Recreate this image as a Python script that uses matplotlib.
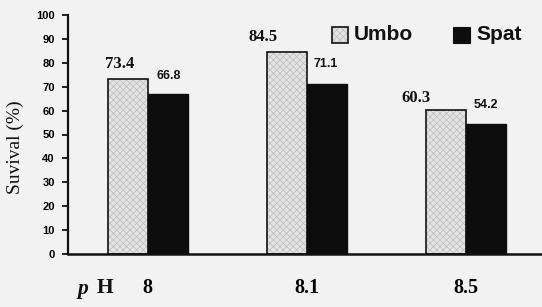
import matplotlib
matplotlib.use("Agg")
import matplotlib.pyplot as plt
import numpy as np
from matplotlib.patches import Rectangle

categories = ["8", "8.1", "8.5"]
umbo = [73.4, 84.5, 60.3]
spat = [66.8, 71.1, 54.2]
yticks = [0, 10, 20, 30, 40, 50, 60, 70, 80, 90, 100]

# label offsets in pixels (dx, dy from bar top centre)
umbo_off = [(-8, 15), (-23, 15), (-30, 12)]
spat_off = [(1, 18), (-1, 20), (0, 19)]

BG = "#f2f2f2"
UFACE = "#e3e3e3"
UHATCH = "#bdbdbd"
plt.rcParams['hatch.linewidth'] = 0.5

fig = plt.figure(figsize=(5.42, 3.07), dpi=100, facecolor=BG)
ax = fig.add_axes([68/542, 1-254/307, 477/542, 239/307])
ax.set_facecolor(BG)

x = np.arange(len(categories))
w = 40/159
# hatched umbo bars
ax.bar(x - w/2, umbo, w, color=UFACE, edgecolor=UHATCH, hatch="xxxxx", linewidth=0, zorder=2)
ax.bar(x - w/2, umbo, w, fill=False, edgecolor="#111111", linewidth=1.2, zorder=3)
ax.bar(x + w/2, spat, w, color="#0d0d0d", edgecolor="#0d0d0d", linewidth=1.0, zorder=3)

ax.set_xlim(-0.5, 2.5)
ax.set_ylim(0, 100)
ax.set_yticks(yticks)
ax.set_yticklabels([str(t) for t in yticks], fontsize=8, fontweight="bold", family="Liberation Sans")
ax.tick_params(axis='y', direction='out', length=4.5, width=1.3, pad=5, color="#111111")
ax.set_xticks(x)
ax.set_xticklabels(categories, fontsize=14.5, fontweight="bold", family="Liberation Serif")
ax.tick_params(axis='x', length=0, pad=17)
for s in ["top", "right"]:
    ax.spines[s].set_visible(False)
ax.spines["left"].set_linewidth(1.6)
ax.spines["bottom"].set_linewidth(1.8)
ax.spines["left"].set_color("#111111")
ax.spines["bottom"].set_color("#111111")

for i in range(len(categories)):
    dx, dy = umbo_off[i]
    ax.annotate(f"{umbo[i]}", (x[i] - w/2, umbo[i]), xytext=(dx*0.72, dy*0.72), textcoords="offset points",
                ha="center", va="center", fontsize=12, fontweight="bold", family="Liberation Serif", color="#111111")
    dx, dy = spat_off[i]
    ax.annotate(f"{spat[i]}", (x[i] + w/2, spat[i]), xytext=(dx*0.72, dy*0.72), textcoords="offset points",
                ha="center", va="center", fontsize=9, fontweight="bold", family="Liberation Sans", color="#111111")

# pH label
fig.text(83/542, 1-289/307, "p", fontsize=15.5, fontweight="bold", style="italic", family="Liberation Serif",
         ha="center", va="center", color="#111111")
fig.text(105/542, 1-288/307, "H", fontsize=15.5, fontweight="bold", family="Liberation Serif",
         ha="center", va="center", color="#111111")

# y label
fig.text(15/542, 1-147/307, "Suvival (%)", rotation=90, fontsize=14, family="Liberation Serif",
         ha="center", va="center", color="#111111")

# legend
tr = fig.transFigure
fig.patches.append(Rectangle((332/542, 1-43/307), 16/542, 16/307, transform=tr, facecolor=UFACE,
                             edgecolor=UHATCH, hatch="xxxxx", linewidth=0))
fig.patches.append(Rectangle((332/542, 1-43/307), 16/542, 16/307, transform=tr, fill=False,
                             edgecolor="#111111", linewidth=1.2))
fig.text(354/542, 1-35/307, "Umbo", fontsize=15, fontweight="bold", family="Liberation Sans",
         ha="left", va="center", color="#111111")
fig.patches.append(Rectangle((453/542, 1-43/307), 17/542, 16/307, transform=tr, facecolor="#0d0d0d",
                             edgecolor="#0d0d0d", linewidth=0.8))
fig.text(476/542, 1-35/307, "Spat", fontsize=15, fontweight="bold", family="Liberation Sans",
         ha="left", va="center", color="#111111")

fig.savefig("out.png", dpi=100, facecolor=BG)
